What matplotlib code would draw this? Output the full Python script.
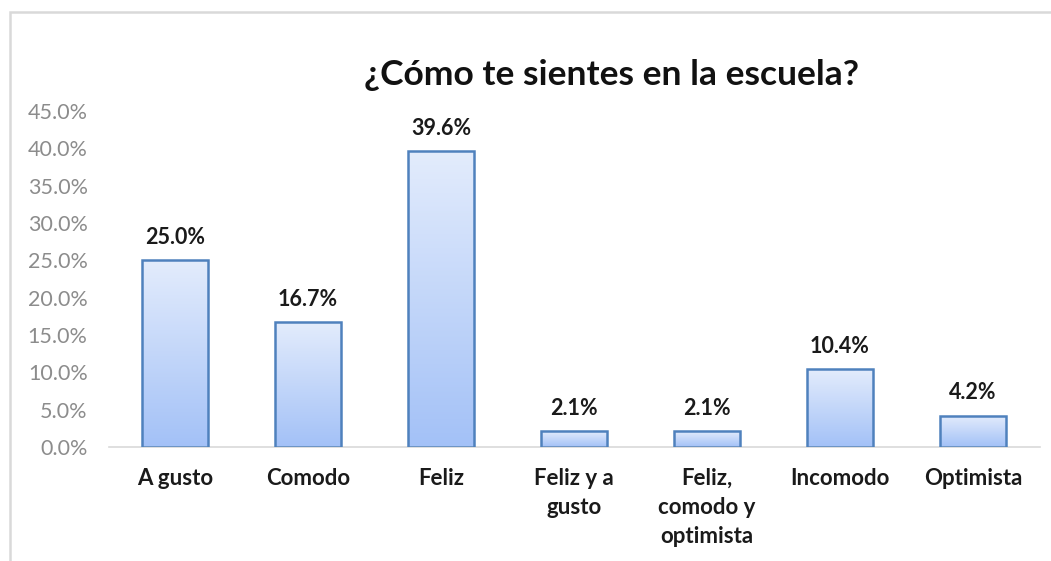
import numpy as np
import matplotlib.pyplot as plt
from matplotlib.patches import Rectangle
from matplotlib.colors import LinearSegmentedColormap

# Data
categories = ['A gusto', 'Comodo', 'Feliz', 'Feliz y a\ngusto',
              'Feliz,\ncomodo y\noptimista', 'Incomodo', 'Optimista']
values = [25.0, 16.7, 39.6, 2.1, 2.1, 10.4, 4.2]
yticks = [0, 5, 10, 15, 20, 25, 30, 35, 40, 45]

plt.rcParams['font.family'] = ['Lato', 'DejaVu Sans']

W, H = 1051, 561
fig = plt.figure(figsize=(W / 100, H / 100), dpi=100)
ax = fig.add_axes([108.5 / W, (H - 447) / H, 931 / W, 336 / H])

x = np.arange(len(categories))
bar_w = 0.5
bars = ax.bar(x, values, width=bar_w, facecolor='none',
              edgecolor='#4f81bd', linewidth=1.8, zorder=3)

# vertical gradient inside each bar
grad = np.linspace(0, 1, 256).reshape(-1, 1)
cmap = LinearSegmentedColormap.from_list('g', ['#a3c1f7', '#e3ecfc'])
for b in bars:
    bx, by = b.get_x(), b.get_y()
    bw, bh = b.get_width(), b.get_height()
    im = ax.imshow(grad, cmap=cmap, aspect='auto', origin='lower',
                   extent=[bx, bx + bw, by, by + bh], zorder=2)
    im.set_clip_path(b)

for xi, v in zip(x, values):
    ax.annotate(f'{v:.1f}%', (xi, v), xytext=(0, 23), textcoords='offset pixels',
                ha='center', va='center', fontsize=15.5, fontweight='bold',
                color='#1a1a1a')

ax.set_xlim(-0.5, len(categories) - 0.5)
ax.set_ylim(0, 45)
ax.set_yticks(yticks)
ax.set_yticklabels([f'{t:.1f}%' for t in yticks], fontsize=15.5, color='#8c8c8c')
ax.set_xticks(x)
ax.set_xticklabels(categories, fontsize=16, fontweight='bold', color='#1a1a1a',
                   linespacing=1.47, va='top')
ax.tick_params(axis='both', length=0)
ax.tick_params(axis='x', pad=15)
ax.tick_params(axis='y', pad=15)
for s in ['top', 'right', 'left']:
    ax.spines[s].set_visible(False)
ax.spines['bottom'].set_color('#d9d9d9')
ax.spines['bottom'].set_linewidth(1.2)
ax.patch.set_alpha(0)

fig.text(612 / W, (H - 75) / H, '¿Cómo te sientes en la escuela?',
         ha='center', va='center', fontsize=25.5, fontweight='bold', color='#111111')

# chart border (clipped at right and bottom)
fig.patches.append(Rectangle((10 / W, -0.2), 1.5, (H - 12) / H + 0.2,
                             transform=fig.transFigure, fill=False,
                             edgecolor='#d9d9d9', linewidth=1.8))

plt.savefig('out.png', dpi=100)
